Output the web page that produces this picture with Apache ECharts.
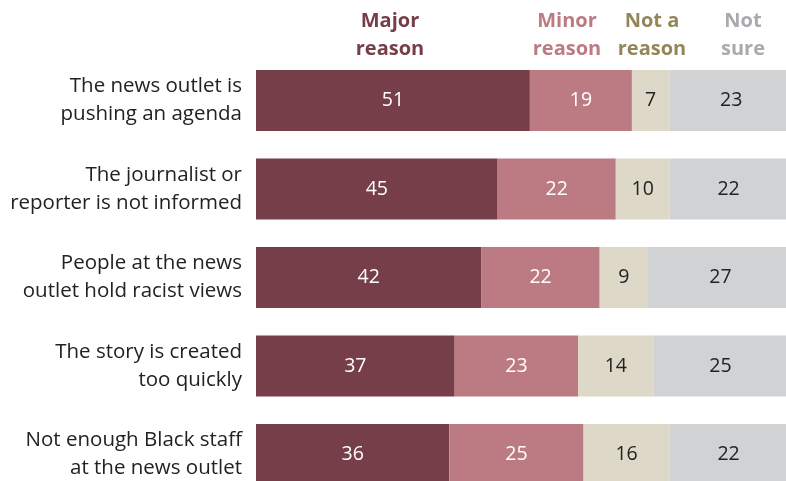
<!DOCTYPE html>
<html>
<head>
<meta charset="utf-8">
<script src="https://cdn.jsdelivr.net/npm/echarts@6/dist/echarts.min.js"></script>
<style>
  html, body { margin: 0; padding: 0; background: #fff; }
  #chart { width: 786px; height: 481px; }
</style>
</head>
<body>
<div id="chart"></div>
<script>
// Reasons given, share of respondents (%)
const categories = [
  'The news outlet is\npushing an agenda',
  'The journalist or\nreporter is not informed',
  'People at the news\noutlet hold racist views',
  'The story is created\ntoo quickly',
  'Not enough Black staff\nat the news outlet'
];
const majorReason = [51, 45, 42, 37, 36];
const minorReason = [19, 22, 22, 23, 25];
const notAReason = [7, 10, 9, 14, 16];
const notSure = [23, 22, 27, 25, 22];
const seriesNames = ['Major\nreason', 'Minor\nreason', 'Not a\nreason', 'Not\nsure'];

const FONT = '"Open Sans", "Liberation Sans", sans-serif';
const fills = ['#753e48', '#bc7a83', '#ddd8c8', '#d1d2d4'];
const headColors = ['#753e48', '#bc7a83', '#948659', '#a9aaad'];
const labelColors = ['#ffffff', '#ffffff', '#222222', '#222222'];
const values = [majorReason, minorReason, notAReason, notSure];

const chart = echarts.init(document.getElementById('chart'), null, { renderer: 'canvas' });

const series = values.map((arr, i) => ({
  name: seriesNames[i],
  type: 'bar',
  stack: 'total',
  data: arr,
  barWidth: 61,
  itemStyle: { color: fills[i] },
  label: {
    show: true,
    position: 'inside',
    color: labelColors[i],
    fontFamily: FONT,
    fontSize: 19.5
  },
  emphasis: { disabled: true }
}));

// Column headings above the first bar's segments
const headX = [390, 567, 652, 743];
const graphic = headX.map((x, i) => ({
  type: 'text',
  x: x,
  y: 7,
  style: {
    text: seriesNames[i],
    fill: headColors[i],
    font: 'bold 20px ' + FONT,
    textAlign: 'center',
    lineHeight: 28
  }
}));

chart.setOption({
  animation: false,
  grid: {
    left: 256, top: 56.25, width: 537, height: 442.5,
    containLabel: false, outerBoundsMode: 'none'
  },
  xAxis: { type: 'value', min: 0, max: 100, show: false },
  yAxis: {
    type: 'category',
    data: categories,
    inverse: true,
    axisLine: { show: false },
    axisTick: { show: false },
    axisLabel: {
      color: '#222222',
      fontFamily: FONT,
      fontSize: 20.5,
      lineHeight: 28,
      align: 'right',
      margin: 14
    }
  },
  graphic: graphic,
  series: series
});
</script>
</body>
</html>
